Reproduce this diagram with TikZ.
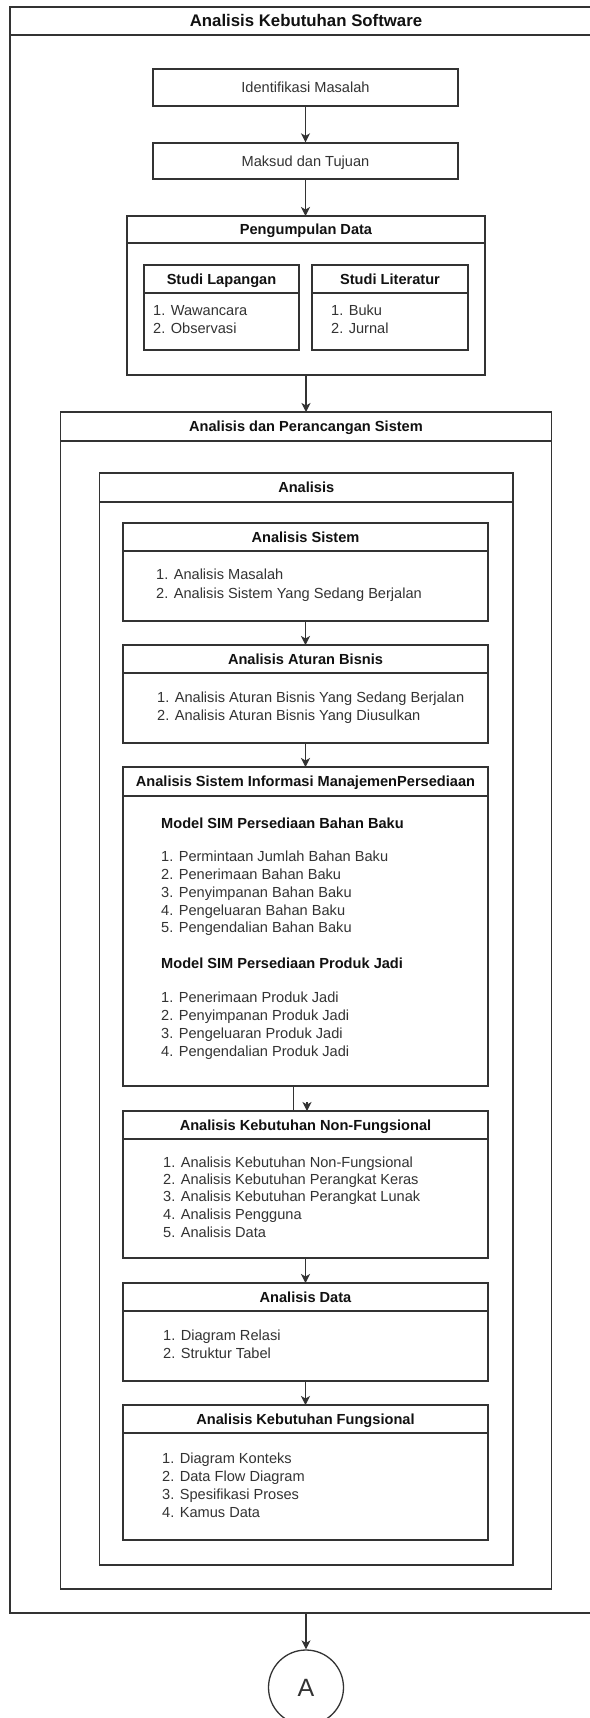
\documentclass[tikz,border=0pt]{standalone}
\usepackage{fontspec}
\setmainfont{Liberation Sans}
\usetikzlibrary{arrows.meta}
\definecolor{lanecol}{HTML}{333333}
\definecolor{txtcol}{HTML}{333333}
\definecolor{boldcol}{HTML}{111111}
\newcommand\lanebox[7]{%
  \node[lane, anchor=north west, minimum width={(#4-#2)*1pt}, minimum height={(#5-#3)*1pt}] (#1) at (#2,#3) {};
  \draw[hdr] (#2,#6) -- (#4,#6);
  \node[ttl] (#1-t) at ({(#2+#4)/2},{(#3+#6)/2}) {#7};
}
\newcommand\itemline[4]{\node[itm] (#1) at (#2,#3) {#4};}
\newcommand\itembold[4]{\node[itmb] (#1) at (#2,#3) {#4};}
\begin{document}
\begin{tikzpicture}[x=1pt,y=-1pt,
  lane/.style={draw=lanecol, line width=1.3pt, rectangle, inner sep=0pt, outer sep=0pt},
  hdr/.style={draw=lanecol, line width=1.3pt},
  ttl/.style={font=\fontsize{14.6}{17.8}\selectfont\bfseries, text=boldcol, inner sep=0pt, text height=10.5pt, text depth=0pt},
  itm/.style={font=\fontsize{14.6}{17.8}\selectfont, text=txtcol, inner sep=0pt, anchor=base west},
  itmb/.style={itm, font=\fontsize{14.6}{17.8}\selectfont\bfseries, text=boldcol},
  plain/.style={font=\fontsize{14.6}{17.8}\selectfont, text=txtcol, draw=lanecol, line width=1.3pt, inner sep=0pt, text height=10.5pt, text depth=0pt},
  conn/.style={draw=lanecol, line width=1.3pt, -{Stealth[length=9pt,width=9pt,inset=2.5pt]}},
]
\useasboundingbox (0,0) rectangle (589,1718);
\fill[white] (0,0) rectangle (589,1718);

% outer swimlane
\node[lane, anchor=north west, minimum width=600pt, minimum height=1606pt] (outer) at (10,7) {};
\draw[hdr] (10,35) -- (610,35);
\node[ttl, font=\fontsize{16.8}{20}\selectfont\bfseries, text height=12pt] (outer-t) at (306,21) {Analisis Kebutuhan Software};

% first steps
\node[plain, minimum width=305pt, minimum height=37pt] (im) at (305.5,87.5) {Identifikasi Masalah};
\node[plain, minimum width=305pt, minimum height=36pt] (mt) at (305.5,161) {Maksud dan Tujuan};

% Pengumpulan Data
\lanebox{pd}{127}{216}{485}{375}{243}{Pengumpulan Data}
\lanebox{sl}{144}{265}{299}{350}{293}{Studi Lapangan}
\itemline{sl1}{153}{315}{1. Wawancara}
\itemline{sl2}{153}{333}{2. Observasi}
\lanebox{slit}{312}{265}{468}{350}{293}{Studi Literatur}
\itemline{slit1}{331}{315}{1. Buku}
\itemline{slit2}{331}{333}{2. Jurnal}

% Analisis dan Perancangan Sistem
\lanebox{aps}{60.5}{412}{551.5}{1589}{441}{Analisis dan Perancangan Sistem}
\lanebox{an}{99.5}{473}{513}{1565}{502}{Analisis}

\lanebox{as}{123}{523}{488}{621}{551}{Analisis Sistem}
\itemline{as1}{156}{579}{1. Analisis Masalah}
\itemline{as2}{156}{598}{2. Analisis Sistem Yang Sedang Berjalan}

\lanebox{aab}{123}{645}{488}{743}{673}{Analisis Aturan Bisnis}
\itemline{aab1}{157}{702}{1. Analisis Aturan Bisnis Yang Sedang Berjalan}
\itemline{aab2}{157}{720}{2. Analisis Aturan Bisnis Yang Diusulkan}

\lanebox{asim}{123}{767}{488}{1086}{796}{Analisis Sistem Informasi ManajemenPersediaan}
\itembold{m1}{161}{828}{Model SIM Persediaan Bahan Baku}
\itemline{m1a}{161}{861}{1. Permintaan Jumlah Bahan Baku}
\itemline{m1b}{161}{879}{2. Penerimaan Bahan Baku}
\itemline{m1c}{161}{897}{3. Penyimpanan Bahan Baku}
\itemline{m1d}{161}{915}{4. Pengeluaran Bahan Baku}
\itemline{m1e}{161}{932}{5. Pengendalian Bahan Baku}
\itembold{m2}{161}{968}{Model SIM Persediaan Produk Jadi}
\itemline{m2a}{161}{1002}{1. Penerimaan Produk Jadi}
\itemline{m2b}{161}{1020}{2. Penyimpanan Produk Jadi}
\itemline{m2c}{161}{1038}{3. Pengeluaran Produk Jadi}
\itemline{m2d}{161}{1056}{4. Pengendalian Produk Jadi}

\lanebox{nf}{123}{1111}{488}{1258}{1139}{Analisis Kebutuhan Non-Fungsional}
\itemline{nf1}{163}{1167}{1. Analisis Kebutuhan Non-Fungsional}
\itemline{nf2}{163}{1184}{2. Analisis Kebutuhan Perangkat Keras}
\itemline{nf3}{163}{1201}{3. Analisis Kebutuhan Perangkat Lunak}
\itemline{nf4}{163}{1219}{4. Analisis Pengguna}
\itemline{nf5}{163}{1237}{5. Analisis Data}

\lanebox{ad}{123}{1283}{488}{1381}{1311}{Analisis Data}
\itemline{ad1}{163}{1340}{1. Diagram Relasi}
\itemline{ad2}{163}{1358}{2. Struktur Tabel}

\lanebox{akf}{123}{1405}{488}{1540}{1433}{Analisis Kebutuhan Fungsional}
\itemline{akf1}{162}{1463}{1. Diagram Konteks}
\itemline{akf2}{162}{1481}{2. Data Flow Diagram}
\itemline{akf3}{162}{1499}{3. Spesifikasi Proses}
\itemline{akf4}{162}{1517}{4. Kamus Data}

% connector A
\node[draw=lanecol, line width=1.3pt, circle, minimum size=75pt, inner sep=0pt, font=\fontsize{25}{30}\selectfont, text=txtcol, text height=18pt, text depth=0pt] (circ) at (306,1687.5) {A};

% connectors
\draw[conn] (im.south) -- (im.south |- mt.north);
\draw[conn] (mt.south) -- (mt.south |- pd.north);
\draw[conn] (pd.south) -- (pd.south |- aps.north);
\draw[conn] (as.south) -- (aab.north);
\draw[conn] (aab.south) -- (asim.north);
\draw[hdr] ([xshift=-12pt]asim.south) -- ([xshift=-12pt]asim.south |- nf.north);
\draw[conn] ([xshift=1.5pt,yshift=9pt]nf.north) -- ([xshift=1.5pt]nf.north);
\draw[conn] (nf.south) -- (ad.north);
\draw[conn] (ad.south) -- (akf.north);
\draw[conn] (circ |- outer.south) -- (circ.north);
\end{tikzpicture}
\end{document}
